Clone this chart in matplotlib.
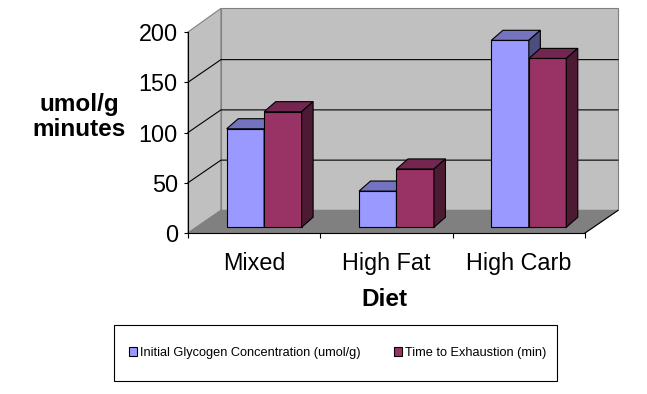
import matplotlib
matplotlib.use('Agg')
import matplotlib.pyplot as plt
from matplotlib.patches import Polygon, Patch, Rectangle

plt.rcParams['font.family'] = ['Liberation Sans', 'DejaVu Sans']

diets = ['Mixed', 'High Fat', 'High Carb']
glycogen = [98, 36, 186]
exhaustion = [115, 58, 168]
series_names = ['Initial Glycogen Concentration (umol/g)', 'Time to Exhaustion (min)']
y_ticks = [0, 50, 100, 150, 200]

# front, top, side shades
blue = ('#9999ff', '#7373bf', '#4d4d80')
red = ('#993366', '#732650', '#4d1a33')
wall = '#c0c0c0'
floor = '#808080'

# fake 3d geometry, in data units (x = categories, y = values)
wall_dx, wall_dy = 0.249, 22.5
bar_dx, bar_dy = 0.087, 10.0
off_x, off_y = 0.2925, 5.7
bar_w = 0.283

fig = plt.figure(figsize=(6.47, 3.94), dpi=100)
ax = fig.add_axes([188/647, 161/394, 397/647, 201/394])
n = len(diets)
top = y_ticks[-1]
ax.set_xlim(0, n)
ax.set_ylim(0, top)
ax.patch.set_visible(False)


def poly(pts, fc, ec='black', lw=0.8, z=1):
    ax.add_patch(Polygon(pts, closed=True, facecolor=fc, edgecolor=ec,
                         linewidth=lw, clip_on=False, zorder=z))


# walls + floor
poly([(0, 0), (wall_dx, wall_dy), (wall_dx, top + wall_dy + 1), (0, top)], wall, floor, 0.8, 0)
poly([(wall_dx, wall_dy), (n + wall_dx, wall_dy), (n + wall_dx, top + wall_dy + 1),
      (wall_dx, top + wall_dy + 1)], wall, floor, 0.8, 0)
poly([(0, 0), (n, 0), (n + wall_dx, wall_dy), (wall_dx, wall_dy)], floor, floor, 0.8, 0)
ax.plot([n, n + wall_dx], [0, wall_dy], color='black', lw=0.8, clip_on=False, zorder=0.6)
for v in y_ticks[1:-1]:
    ax.plot([0, wall_dx, n + wall_dx], [v, v + wall_dy, v + wall_dy],
            color='black', lw=0.8, clip_on=False, zorder=0.5)

# bars
for i in range(n):
    for j, (vals, cols) in enumerate([(glycogen, blue), (exhaustion, red)]):
        x0 = i + off_x + j * bar_w
        x1 = x0 + bar_w
        y0 = off_y
        y1 = off_y + vals[i]
        z = 2 + i * 2 + j
        poly([(x0, y0), (x1, y0), (x1, y1), (x0, y1)], cols[0], z=z)
        poly([(x0, y1), (x1, y1), (x1 + bar_dx, y1 + bar_dy), (x0 + bar_dx, y1 + bar_dy)], cols[1], z=z)
        poly([(x1, y0), (x1 + bar_dx, y0 + bar_dy), (x1 + bar_dx, y1 + bar_dy), (x1, y1)], cols[2], z=z)

for s in ['top', 'right']:
    ax.spines[s].set_visible(False)
for s in ['left', 'bottom']:
    ax.spines[s].set_linewidth(0.8)
    ax.spines[s].set_zorder(20)

ax.set_yticks(y_ticks)
ax.tick_params(axis='y', direction='out', length=3, width=0.8, pad=4.3, labelsize=16.8)
ax.set_xticks(range(n + 1))
ax.set_xticklabels([])
ax.set_xticks([i + 0.5 for i in range(n)], minor=True)
ax.set_xticklabels(diets, minor=True)
ax.tick_params(axis='x', which='major', direction='out', length=3.6, width=0.8)
ax.tick_params(axis='x', which='minor', length=0, pad=14, labelsize=16.8)

fig.text(384/647, 1 - 300/394, 'Diet', ha='center', va='center', fontsize=17.5, weight='bold')
fig.text(79/647, 1 - 117/394, 'umol/g\nminutes', ha='center', va='center',
         fontsize=17.5, weight='bold', linespacing=1.15)

# legend box
fig.add_artist(Rectangle((114/647, 13/394), 443/647, 56/394, transform=fig.transFigure,
                         fill=False, edgecolor='black', linewidth=0.8))
handles = [Patch(facecolor=blue[0], edgecolor='black', linewidth=0.8),
           Patch(facecolor=red[0], edgecolor='black', linewidth=0.8)]
fig.legend(handles, series_names, loc='center left', bbox_to_anchor=(129/647, 1 - 353/394),
           ncol=2, frameon=False, fontsize=9.2, handlelength=0.65, handleheight=0.65,
           handletextpad=0.2, columnspacing=2.6, borderpad=0, borderaxespad=0)

fig.savefig('out.png', dpi=100)
